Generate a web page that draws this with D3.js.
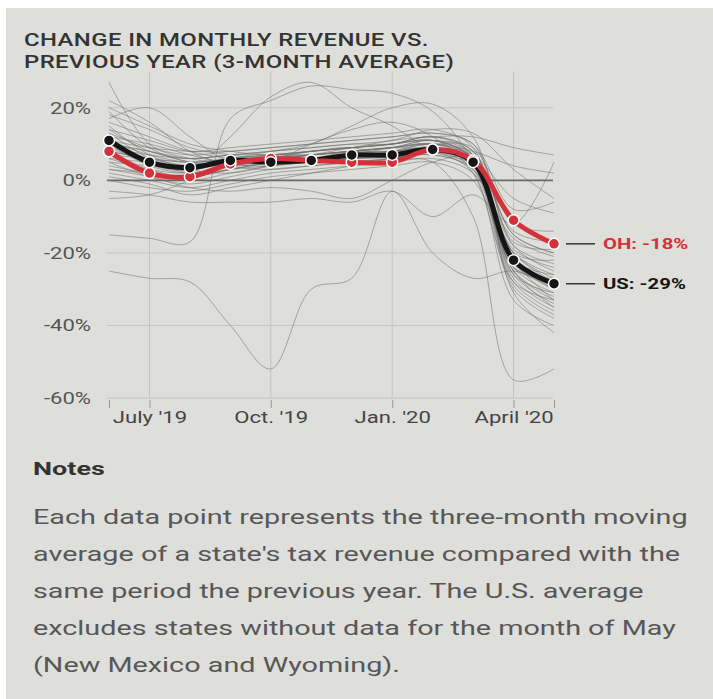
<!DOCTYPE html>
<html lang="en">
<head>
<meta charset="utf-8">
<title>Change in monthly revenue</title>
<script src="https://cdn.jsdelivr.net/npm/d3@7"></script>
<style>
  body { margin: 0; background: #ffffff; }
  svg { display: block; font-family: Roboto, "Noto Sans", sans-serif; }
</style>
</head>
<body>
<script>
// months on the x axis (June 2019 .. May 2020)
var months = ["Jun 19","Jul 19","Aug 19","Sep 19","Oct 19","Nov 19","Dec 19","Jan 20","Feb 20","Mar 20","Apr 20","May 20"];
var tickMonths = ["Jul 19","Oct 19","Jan 20","Apr 20"];
var tickLabels = ["July '19","Oct. '19","Jan. '20","April '20"];
var yTicks = [20, 0, -20, -40, -60];

// highlighted series
var usValues = [11, 5, 3.5, 5.5, 5, 5.5, 7, 7, 8.5, 5, -22, -28.5];
var ohValues = [8, 2, 1, 4.5, 6, 5.5, 5, 5, 8.5, 5.5, -11, -17.5];
var usLabel = "US: -29%";
var ohLabel = "OH: -18%";

// individual states (grey)
var states = [
  [-25, -27, -28, -40, -52, -30, -27, -3, -20, -27, -25, -30],
  [10, 6, 4, 6, 7, 8, 9, 6, 5, -10, -55, -52],
  [-15, -16, -17, 17, 22, 26, 25, 24, 19, 5, -25, -35],
  [-3, -4, -6, -6, -6, -5, -6, -3, -10, -4, -12, 5],
  [5, 4, 3, 12, 23, 27, 20, 15, 8, 4, -20, -28],
  [8, 6, 5, 6, 8, 10, 15, 20, 21, 12, -18, -25],
  [17, 20, 12, 5, 4, 6, 7, 9, 10, 6, -22, -30],
  [27, 10, 6, 5, 6, 7, 8, 8, 9, 5, -25, -33],
  [19, 9, 5, 4, 6, 8, 9, 10, 12, 8, -15, -20],
  [15, 7, 3, 2, 4, 6, 8, 9, 11, 6, -20, -27],
  [14, 8, 6, 7, 8, 9, 10, 10, 12, 7, -24, -31],
  [13, 6, 2, 4, 6, 7, 8, 9, 10, 5, -26, -34],
  [12, 5, 4, 5, 7, 7, 8, 8, 9, 4, -28, -36],
  [11, 7, 5, 6, 7, 8, 9, 10, 11, 8, -22, -26],
  [10, 4, 2, 3, 5, 6, 7, 7, 8, 3, -30, -38],
  [9, 5, 3, 5, 6, 6, 7, 8, 10, 6, -18, -23],
  [8, 3, 1, 3, 5, 6, 6, 7, 9, 5, -21, -29],
  [7, 2, 0, 2, 4, 5, 6, 8, 10, 7, -25, -32],
  [6, 3, 2, 4, 5, 7, 8, 9, 8, 2, -33, -40],
  [5, 1, -1, 1, 3, 4, 5, 6, 7, 3, -19, -24],
  [4, 2, 1, 3, 4, 5, 6, 6, 8, 4, -27, -35],
  [2, 0, -2, 0, 2, 3, 4, 5, 6, 2, -16, -21],
  [0, -2, -3, -1, 1, 2, 3, 4, 5, 0, -23, -30],
  [16, 12, 8, 6, 5, 5, 6, 7, 8, 4, -29, -37],
  [18, 14, 9, 7, 6, 7, 8, 9, 10, 9, -12, -14],
  [11, 9, 8, 8, 9, 10, 11, 12, 13, 10, -8, -6],
  [9, 7, 6, 7, 8, 9, 10, 11, 14, 13, 3, -5],
  [7, 6, 5, 6, 7, 8, 9, 11, 12, 12, 9, 7],
  [6, 5, 4, 5, 6, 7, 8, 9, 10, 8, 4, 2],
  [3, 2, 1, 3, 5, 6, 7, 8, 9, 7, -5, -9],
  [20, 15, 10, 8, 7, 8, 9, 10, 11, 6, -14, -17],
  [12, 10, 7, 5, 6, 8, 9, 10, 12, 8, -20, -22],
  [10, 8, 6, 7, 7, 7, 8, 9, 11, 7, -24, -28],
  [8, 6, 4, 5, 6, 7, 9, 10, 11, 6, -26, -31],
  [14, 11, 8, 9, 10, 11, 12, 13, 14, 9, -31, -42],
  [13, 9, 7, 8, 9, 10, 11, 12, 13, 10, -17, -19],
  [1, -1, -4, -2, 0, 2, 4, 6, 7, 3, -20, -26],
  [22, 16, 8, 4, 3, 4, 5, 6, 8, 5, -24, -27],
  [-5, -4, 0, 4, 6, 5, 6, 7, 8, 4, -22, -33],
  [10, 8, 5, 4, 5, 10, 14, 16, 12, 2, -28, -33],
  [3, 1, -2, -3, -2, -3, -5, 0, 5, 6, -15, -20]
];

var titleLines = ["CHANGE IN MONTHLY REVENUE VS.", "PREVIOUS YEAR (3-MONTH AVERAGE)"];
var notesTitle = "Notes";
var notesLines = [
  "Each data point represents the three-month moving",
  "average of a state's tax revenue compared with the",
  "same period the previous year. The U.S. average",
  "excludes states without data for the month of May",
  "(New Mexico and Wyoming)."
];

var w = 713, h = 699;
var red = "#d4313a", black = "#151515";
var stretch = 1.38; // the screen photo is wider than tall

// places a text at x,y, stretched horizontally like the photo
function place(x, y, s) {
  return "translate(" + x + "," + y + ") scale(" + (s || stretch) + ",1)";
}

var svg = d3.select("body").append("svg")
  .attr("width", w)
  .attr("height", h);

// photo background
svg.append("rect").attr("width", w).attr("height", h).attr("fill", "#ffffff");
svg.append("rect").attr("x", 6).attr("y", 8).attr("width", w - 6).attr("height", h - 8).attr("fill", "#dedfdb");

// title
svg.append("g").selectAll("text")
  .data(titleLines).enter().append("text")
  .attr("transform", function(d, i) { return place(24, 46 + i * 22, 1.33); })
  .attr("font-size", 18).attr("font-weight", 500)
  .attr("letter-spacing", 0.3)
  .attr("fill", "#333")
  .text(function(d) { return d; });

var xScale = d3.scalePoint().domain(months).range([109, 554]);
var yScale = d3.scaleLinear().domain([-60, 30]).range([398, 71.5]);

// grid
svg.append("g").selectAll("line")
  .data(tickMonths).enter().append("line")
  .attr("x1", function(d) { return xScale(d); })
  .attr("x2", function(d) { return xScale(d); })
  .attr("y1", yScale(30)).attr("y2", yScale(-60))
  .attr("stroke", "#c4c5c2").attr("stroke-width", 1);

svg.append("g").selectAll("line")
  .data(yTicks).enter().append("line")
  .attr("x1", 107).attr("x2", 553)
  .attr("y1", function(d) { return yScale(d); })
  .attr("y2", function(d) { return yScale(d); })
  .attr("stroke", function(d) { return d == 0 ? "#6a6a6a" : "#c4c5c2"; })
  .attr("stroke-width", function(d) { return d == 0 ? 1.6 : 1; });

// y axis labels
svg.append("g").selectAll("text")
  .data(yTicks).enter().append("text")
  .attr("transform", function(d) { return place(91, yScale(d) + 6); })
  .attr("text-anchor", "end")
  .attr("font-size", 16)
  .attr("fill", "#555")
  .text(function(d) { return d + "%"; });

// x axis: ticks at both ends plus the labelled quarters
var xAxis = d3.axisBottom(xScale)
  .tickValues([months[0]].concat(tickMonths, [months[months.length - 1]]))
  .tickSize(8)
  .tickFormat(function(d) { var i = tickMonths.indexOf(d); return i < 0 ? "" : tickLabels[i]; });

var gx = svg.append("g")
  .attr("transform", "translate(0," + (yScale(-60) + 2) + ")")
  .call(xAxis);
gx.select(".domain").remove();
gx.selectAll(".tick line").attr("stroke", "#999");
gx.selectAll(".tick text")
  .attr("y", 12)
  .attr("transform", "scale(" + stretch + ",1)")
  .attr("font-family", "Roboto, sans-serif")
  .attr("font-size", 16)
  .attr("fill", "#444");

var line = d3.line()
  .x(function(d, i) { return xScale(months[i]); })
  .y(function(d) { return yScale(d); })
  .curve(d3.curveCatmullRom.alpha(0.5));

// state lines
svg.append("g").selectAll("path")
  .data(states).enter().append("path")
  .attr("d", line)
  .attr("fill", "none")
  .attr("stroke", "#707070")
  .attr("stroke-opacity", 0.55)
  .attr("stroke-width", 1);

// US and OH lines
svg.append("path").attr("d", line(usValues))
  .attr("fill", "none").attr("stroke", black).attr("stroke-width", 5);
svg.append("path").attr("d", line(ohValues))
  .attr("fill", "none").attr("stroke", red).attr("stroke-width", 5);

svg.append("g").selectAll("circle")
  .data(ohValues).enter().append("circle")
  .attr("cx", function(d, i) { return xScale(months[i]); })
  .attr("cy", function(d) { return yScale(d); })
  .attr("r", 5.5)
  .attr("fill", red).attr("stroke", "#fff").attr("stroke-width", 1.5);

svg.append("g").selectAll("circle")
  .data(usValues).enter().append("circle")
  .attr("cx", function(d, i) { return xScale(months[i]); })
  .attr("cy", function(d) { return yScale(d); })
  .attr("r", 5.5)
  .attr("fill", black).attr("stroke", "#fff").attr("stroke-width", 1.5);

// end labels
var ends = [
  { v: ohValues[ohValues.length - 1], label: ohLabel, color: red },
  { v: usValues[usValues.length - 1], label: usLabel, color: black }
];
var lastX = xScale(months[months.length - 1]);
ends.forEach(function(e) {
  svg.append("line")
    .attr("x1", lastX + 12).attr("x2", lastX + 41)
    .attr("y1", yScale(e.v)).attr("y2", yScale(e.v))
    .attr("stroke", "#333").attr("stroke-width", 1.5);
  svg.append("text")
    .attr("transform", place(lastX + 49, yScale(e.v) + 5, 1.45))
    .attr("font-size", 14).attr("font-weight", 700)
    .attr("fill", e.color)
    .text(e.label);
});

// notes
svg.append("text")
  .attr("transform", place(33, 475, 1.42))
  .attr("font-size", 19).attr("font-weight", 700)
  .attr("fill", "#333")
  .text(notesTitle);

svg.append("g").selectAll("text")
  .data(notesLines).enter().append("text")
  .attr("transform", function(d, i) { return place(33, 524 + i * 37, 1.44); })
  .attr("font-size", 20)
  .attr("fill", "#575757")
  .text(function(d) { return d; });
</script>
</body>
</html>
